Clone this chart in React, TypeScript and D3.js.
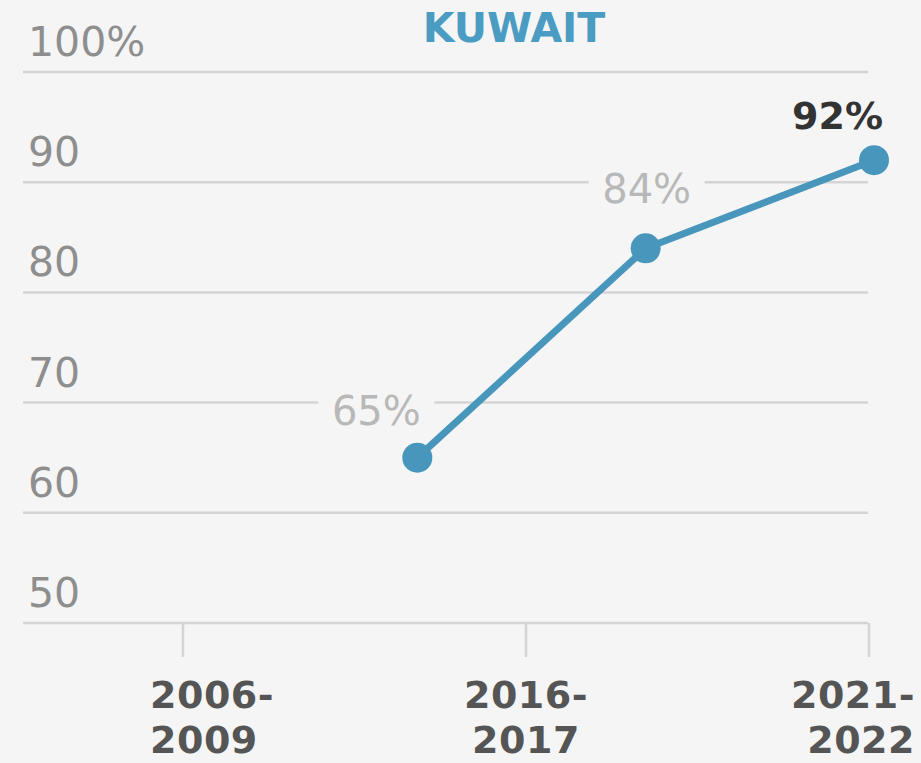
import React from "react";
import * as d3 from "d3";

const title = "KUWAIT";
const yTicks = [50, 60, 70, 80, 90, 100];
const tickLabels = [["2006-", "2009"], ["2016-", "2017"], ["2021-", "2022"]];
const pointSlots = [1, 2, 3];
const values = [65, 84, 92];
const valueLabels = ["65%", "84%", "92%"];

const W = 921;
const H = 763;
const BG = "#f5f5f5";
const BLUE = "#4896bb";
const FONT = "'DejaVu Sans', sans-serif";

export default function App() {
  const y = d3.scaleLinear().domain([50, 100]).range([623, 72]);
  const xTick = d3.scalePoint<number>().domain(tickLabels.map((_, i) => i)).range([183, 869]);
  const xData = d3.scaleLinear().domain([0, 3]).range([189, 874]);
  const gridX0 = 23;
  const gridX1 = 868;

  const pts = values.map((v, i) => ({ x: xData(pointSlots[i]), y: y(v), v, label: valueLabels[i] }));
  const line = d3.line<{ x: number; y: number }>().x((d) => d.x).y((d) => d.y);

  const labelPlace = [
    { dx: -41, dy: -33, anchor: "middle", bold: false, bg: true },
    { dx: 1, dy: -45, anchor: "middle", bold: false, bg: true },
    { dx: 9, dy: -31, anchor: "end", bold: true, bg: false },
  ];

  const anchors = ["start", "middle", "end"];
  const labelOffsets = [-33, 0, 46];

  return (
    <svg width={W} height={H} style={{ position: "absolute", left: 0, top: 0, display: "block" }}>
      <rect x={0} y={0} width={W} height={H} fill={BG} />
      <text x={514} y={42} textAnchor="middle" fontFamily={FONT} fontWeight="bold" fontSize={41} fill="#4a9cc2">
        {title}
      </text>
      {yTicks.map((t) => (
        <g key={t}>
          <line x1={gridX0} x2={gridX1} y1={y(t)} y2={y(t)} stroke="#d4d4d4" strokeWidth={2.5} />
          <text x={28} y={y(t) - 16} fontFamily={FONT} fontSize={41} fill="#8e8e8e">
            {t === 100 ? "100%" : String(t)}
          </text>
        </g>
      ))}
      {tickLabels.map((lab, i) => {
        const tx = xTick(i) as number;
        const lx = tx + labelOffsets[i];
        return (
          <g key={i}>
            <line x1={tx} x2={tx} y1={y(50)} y2={657} stroke="#d4d4d4" strokeWidth={2.5} />
            <text x={lx} y={708} textAnchor={anchors[i]} fontFamily={FONT} fontWeight="bold" fontSize={38} letterSpacing={0.5} fill="#555555">
              {lab[0]}
            </text>
            <text x={lx} y={753} textAnchor={anchors[i]} fontFamily={FONT} fontWeight="bold" fontSize={38} letterSpacing={0.5} fill="#555555">
              {lab[1]}
            </text>
          </g>
        );
      })}
      {pts.map((p, i) => {
        const lp = labelPlace[i];
        if (!lp.bg) return null;
        const cx = p.x + lp.dx;
        return <rect key={i} x={cx - 58} y={p.y + lp.dy - 33} width={116} height={38} fill={BG} />;
      })}
      {pts.map((p, i) => {
        const lp = labelPlace[i];
        return (
          <text
            key={i}
            x={p.x + lp.dx}
            y={p.y + lp.dy}
            textAnchor={lp.anchor}
            fontFamily={FONT}
            fontWeight={lp.bold ? "bold" : "normal"}
            fontSize={lp.bold ? 38 : 40}
            fill={lp.bold ? "#333333" : "#b8b8b8"}
          >
            {p.label}
          </text>
        );
      })}
      <path d={line(pts) || ""} fill="none" stroke={BLUE} strokeWidth={7} strokeLinejoin="round" />
      {pts.map((p, i) => (
        <circle key={i} cx={p.x} cy={p.y} r={15} fill={BLUE} />
      ))}
    </svg>
  );
}
